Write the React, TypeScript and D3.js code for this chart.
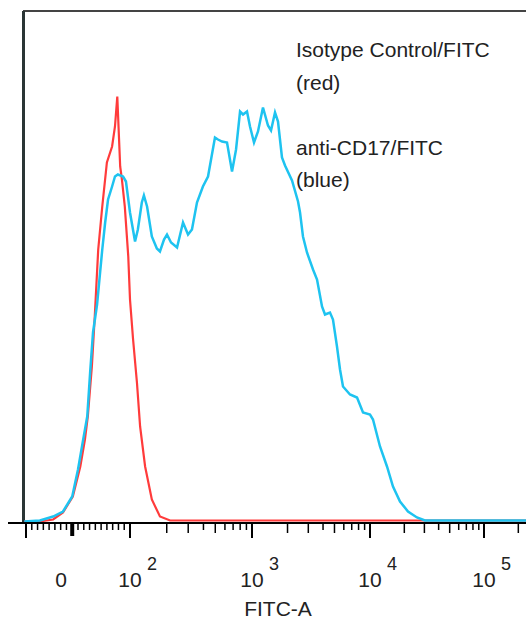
import React from "react";
import * as d3 from "d3";

const width = 526;
const height = 622;

// Isotype control (red): FITC-A intensity and event count
const redFitc = [-83, -56, -33, -16, 1, 14, 22, 27, 34, 39, 45, 52, 60, 69, 74, 78, 83, 86, 91, 97, 100, 106, 114, 121, 133, 151, 176, 213, 257, 2553, 27480, 262144];
const redCount = [0, 0, 1, 4.5, 12.5, 27.5, 41, 52.5, 77.5, 102.5, 136, 157.5, 179.5, 187.5, 197.5, 212.5, 177.5, 171, 157.5, 132.5, 111, 91, 69.5, 47.5, 27.5, 11, 2.5, 0.5, 0.5, 0.5, 0.5, 0.5];

// anti-CD17 (blue)
const blueFitc = [-83, -56, -33, -16, 0, 10, 19, 26, 31, 36, 43, 52, 57, 62, 69, 74, 79, 88, 93, 100, 110, 116, 125, 130, 138, 151, 166, 176, 190, 201, 217, 243, 272, 299, 322, 354, 396, 436, 497, 526, 568, 624, 686, 740, 798, 844, 910, 963, 1040, 1124, 1239, 1366, 1449, 1567, 1661, 1795, 1904, 2183, 2455, 2553, 2704, 2924, 3289, 3557, 3920, 4155, 4580, 4856, 5250, 5570, 5904, 6767, 7762, 8726, 10000, 10624, 12236, 14096, 15911, 18335, 21544, 25823, 30340, 262144];
const blueCount = [0, 0.5, 2.5, 5, 12.5, 26, 41, 52.5, 74.5, 94.5, 108.5, 136, 149.5, 161, 167.5, 172.5, 173.5, 172.5, 170, 154.5, 140, 146, 159.5, 163, 157.5, 142.5, 136.5, 135, 141, 143.5, 139.5, 137, 149.5, 143.5, 146, 159.5, 167.5, 172.5, 192, 191, 190, 189.5, 175, 186, 205, 203.5, 205, 197.5, 189.5, 195, 207, 198, 195.5, 204.5, 200, 182, 178, 170.5, 160, 154.5, 142.5, 134.5, 126, 121, 107.5, 103.5, 104.5, 101, 87.5, 76, 67.5, 63.5, 62, 54.5, 53.5, 51, 37.5, 27.5, 17.5, 10, 5, 2, 0.5, 0.5];

// axis ticks
const decadeTicks = [100, 1000, 10000, 100000];
const decadeExponents = ["2", "3", "4", "5"];
const linearMinorTicks = [-70, -60, -50, -40, -30, -20, -10, 10, 20, 30, 40, 50, 60, 70, 80, 90];
const logMidTicks = [200, 300, 500, 2000, 3000, 5000, 20000, 30000, 50000, 200000];
const logSmallTicks = [400, 600, 700, 800, 900, 4000, 6000, 7000, 8000, 9000, 40000, 60000, 70000, 80000, 90000];

const legendLines = ["Isotype Control/FITC", "(red)", "", "anti-CD17/FITC", "(blue)"];

// biexponential-ish display: linear below 100, log above
const toDecades = (v: number) => (v >= 100 ? Math.log10(v) : 2 + (v - 100) / (100 * Math.LN10));

const App = () => {
    const xScale = d3.scaleLinear().domain([toDecades(-80), 2, 3, 4, 5]).range([26, 130, 252, 370, 484]);
    const x = (v: number) => xScale(toDecades(v));
    const yScale = d3.scaleLinear().domain([0, 255]).range([521.5, 11.5]);

    const makeLine = (xs: number[]) =>
        d3.line<number>()
            .x((_, i) => x(xs[i]))
            .y((d) => yScale(d));

    const axisY = 523;
    const font = "'Liberation Sans', Arial, sans-serif";

    return (
        <div style={{ position: "absolute", left: 0, top: 0 }}>
            <svg width={width} height={height} style={{ display: "block", background: "white" }}>
                {/* frame */}
                <line x1={23} y1={11} x2={width} y2={11} stroke="#444" strokeWidth={2} />
                <line x1={23.5} y1={11} x2={23.5} y2={axisY} stroke="#2a3535" strokeWidth={3} />

                {/* histograms */}
                <path d={makeLine(redFitc)(redCount) || ""} fill="none" stroke="#ff3b3b" strokeWidth={2.2} />
                <path d={makeLine(blueFitc)(blueCount) || ""} fill="none" stroke="#1ec3f0" strokeWidth={2.5} />

                {/* x axis */}
                <line x1={8} y1={axisY} x2={width} y2={axisY} stroke="#000" strokeWidth={2} />
                <line x1={x(-80)} y1={axisY} x2={x(-80)} y2={axisY + 15} stroke="#000" strokeWidth={2} />
                <line x1={x(0)} y1={axisY} x2={x(0)} y2={axisY + 13} stroke="#000" strokeWidth={4} />
                {decadeTicks.map((t) => (
                    <line key={"M" + t} x1={x(t)} y1={axisY} x2={x(t)} y2={axisY + 15} stroke="#000" strokeWidth={2} />
                ))}
                {logMidTicks.map((t) => (
                    <line key={"m" + t} x1={x(t)} y1={axisY} x2={x(t)} y2={axisY + 10} stroke="#000" strokeWidth={1.5} />
                ))}
                {logSmallTicks.concat(linearMinorTicks).map((t) => (
                    <line key={"s" + t} x1={x(t)} y1={axisY} x2={x(t)} y2={axisY + 7} stroke="#000" strokeWidth={1.5} />
                ))}

                {/* tick labels */}
                <text x={61} y={587} textAnchor="middle" fontFamily={font} fontSize={21} fill="#222">0</text>
                {decadeTicks.map((t, i) => (
                    <g key={"l" + t} fontFamily={font} fill="#222">
                        <text x={x(t)} y={587} textAnchor="middle" fontSize={21}>10</text>
                        <text x={x(t) + 17} y={570} fontSize={18}>{decadeExponents[i]}</text>
                    </g>
                ))}
                <text x={278} y={616} textAnchor="middle" fontFamily={font} fontSize={21} fill="#222">FITC-A</text>

                {/* legend */}
                {legendLines.map((s, i) => (
                    <text key={i} x={296} y={57 + i * 32.5} fontFamily={font} fontSize={21} fill="#222">{s}</text>
                ))}
            </svg>
        </div>
    );
};

export default App;
